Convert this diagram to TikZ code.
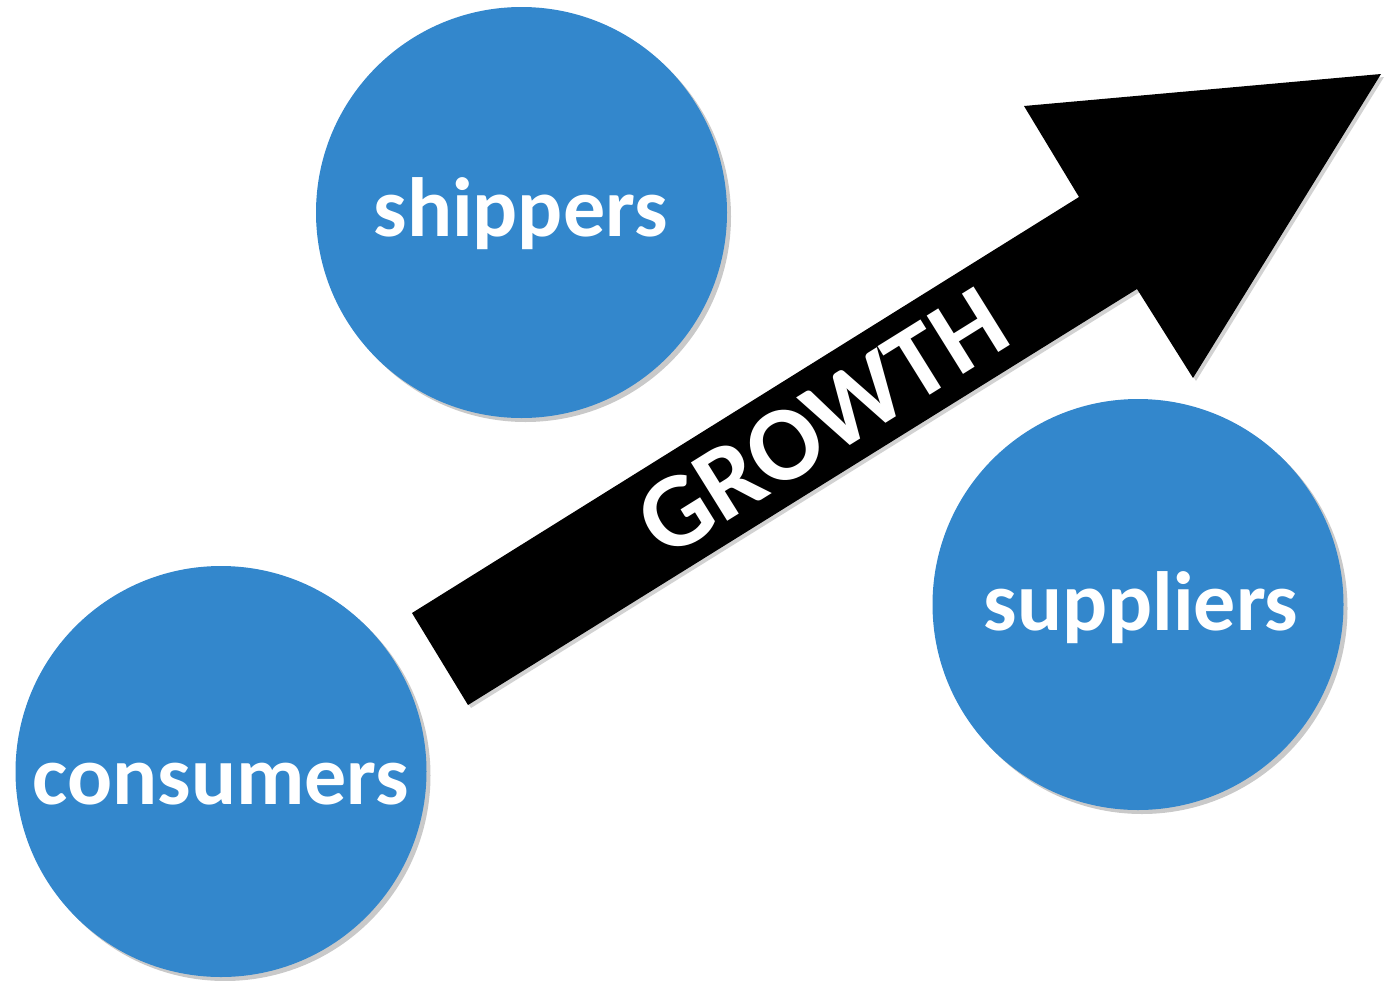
\documentclass[tikz,border=0pt]{standalone}
\usepackage{fontspec}
\setmainfont{Carlito}
\usetikzlibrary{shadows,calc}
\definecolor{disc}{RGB}{51,135,204}
\tikzset{
  bubble/.style={circle, fill=disc, minimum size=411pt, inner sep=0pt,
    drop shadow={shadow xshift=4pt, shadow yshift=-4pt, opacity=0.3, fill=black!70}},
  label/.style={anchor=base, text=white, font=\bfseries\fontsize{84}{84}\selectfont, inner sep=0pt},
  arrowshape/.style={fill=black,
    drop shadow={shadow xshift=3pt, shadow yshift=-3pt, opacity=0.25, fill=black!70}}
}
\begin{document}
\begin{tikzpicture}[x=1pt,y=-1pt]
\useasboundingbox (0,0) rectangle (1389,980);
% arrow
\fill[arrowshape] (412,613) -- (1079,197) -- (1024,106) -- (1381,74) -- (1193,378) -- (1137,289) -- (468,705) -- cycle;
\node[rotate=31.9, text=white, font=\bfseries\fontsize{106}{106}\selectfont, inner sep=0pt] (growth) at (822,422) {GROWTH};
% circles
\node[bubble] (ship) at (521.5,212.5) {};
\node[bubble] (cons) at (221,771.5) {};
\node[bubble] (supp) at (1138,604.5) {};
\node[label] (shipt) at ($(ship.center)+(-1,23.5)$) {shippers};
\node[label] (const) at ($(cons.center)+(0,32.5)$) {consumers};
\node[label] (suppt) at ($(supp.center)+(3,25.5)$) {suppliers};
\end{tikzpicture}
\end{document}
